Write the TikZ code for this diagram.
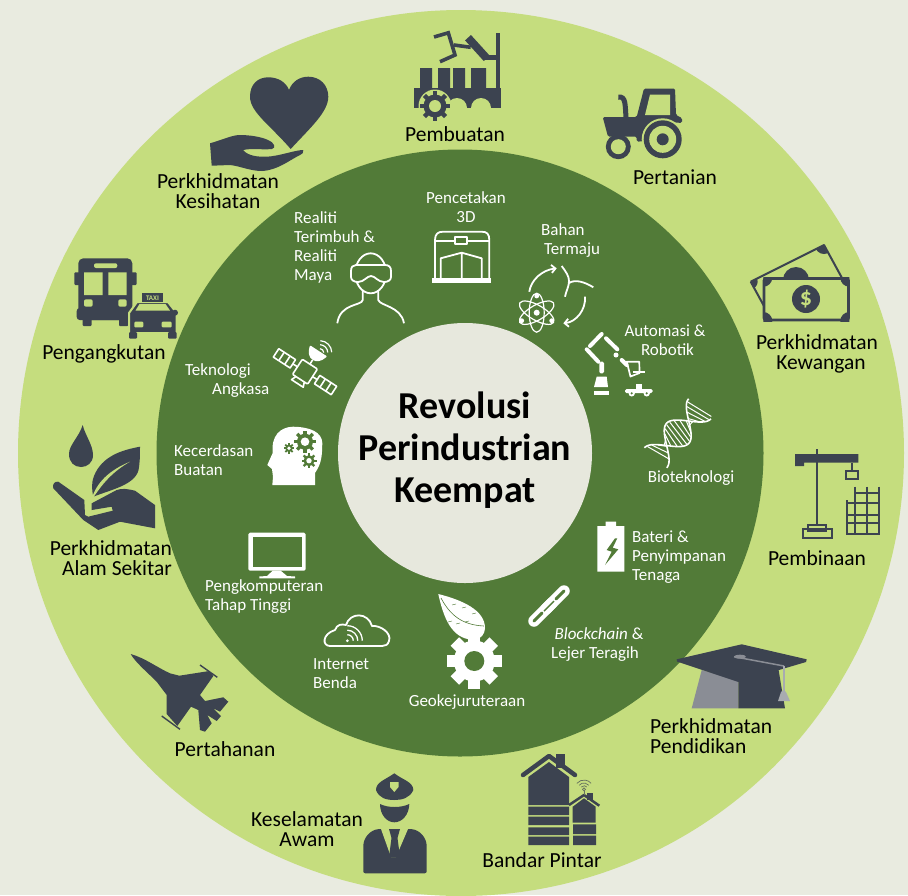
\documentclass[tikz,border=0pt]{standalone}
\usepackage{fontspec}
\setmainfont{Carlito}
\usetikzlibrary{arrows.meta}
\definecolor{bgc}{HTML}{E9EBE0}
\definecolor{lgreen}{HTML}{C5DD7E}
\definecolor{dgreen}{HTML}{527B38}
\definecolor{cfill}{HTML}{E7E8DD}
\definecolor{ic}{HTML}{3C4350}
\definecolor{capgrey}{HTML}{8A8D95}
\definecolor{bellgrey}{HTML}{A8ABB0}
\tikzset{
  outerlabel/.style={font=\fontsize{21.5}{20}\selectfont,text=black,inner sep=0pt,align=center},
  innerlabel/.style={font=\fontsize{17}{19}\selectfont,text=white,inner sep=0pt,align=left},
  centrelabel/.style={font=\fontsize{38}{42}\selectfont\bfseries,text=black,inner sep=0pt,align=center},
  wline/.style={draw=white,line width=1.8pt,line join=round},
  dline/.style={draw=ic,line width=2pt},
}
\newcommand{\toothgear}[7]{%
  \begin{scope}[shift={(#1,#2)}]
    \fill[#7] (0,0) circle[radius=#4];
    \foreach \k in {1,...,#5}{\fill[#7,rotate={\k*180/#5}] (-#6,-#3) rectangle (#6,#3);}
  \end{scope}}
\begin{document}
\begin{tikzpicture}[x=1pt,y=1pt,yscale=-1]
\useasboundingbox (0,0) rectangle (908,895);
\clip (0,0) rectangle (908,895);
\fill[bgc] (0,0) rectangle (908,895);
\fill[lgreen] (461,453) circle[radius=443];
\fill[dgreen] (460,453) circle[radius=303.5];
\fill[cfill] (465,453) ellipse[x radius=127,y radius=130];

% ---- Pembuatan
\fill[ic] (414,88) rectangle (501,108);
\fill[ic] (420,68) rectangle (432,88) (438,68) rectangle (450,88) (453,68) rectangle (465,88) (471,68) rectangle (486,88);
\fill[ic] (496.3,33) rectangle (500.3,88);
\fill[lgreen] (457,108) circle[radius=10] (481,108) circle[radius=10];
\fill[lgreen] (435,106) circle[radius=16.5];
\toothgear{435}{106}{15}{11.5}{4}{2.2}{ic}
\fill[lgreen] (435,106) circle[radius=6];
\draw[ic,line width=3.6pt] (434,37) -- (448.3,32.8) -- (455,55) -- (440,61.7);
\draw[ic,line width=3.6pt] (454,45) -- (470.7,47.3);
\draw[ic,line width=8pt] (468,37.7) -- (486.7,58.3);
\draw[ic,line width=5pt] (484,57.5) -- (498,57.5);

% ---- Pertanian
\fill[ic,rounded corners=1.5pt] (602.7,117) -- (636.7,117) -- (644,88.5) -- (675,88.5) -- (676,115) -- (682,118) -- (682,123) -- (670,122) -- (655,125) -- (646,141) -- (636.7,141.7) -- (636.7,136.7) -- (608,136.7) -- cycle;
\fill[lgreen] (650,94.5) -- (670,94.5) -- (670,115) -- (645,115) -- cycle;
\draw[ic,line width=5pt] (618.3,97) .. controls (626,96) and (625,105) .. (626,117);
\fill[lgreen] (662.7,139.3) circle[radius=21];
\fill[ic] (662.7,139.3) circle[radius=19];
\fill[lgreen] (662.7,139.3) circle[radius=13.5];
\fill[ic] (662.7,139.3) circle[radius=6];
\fill[ic] (618.3,146.7) circle[radius=12.5];
\fill[lgreen] (618.3,146.7) circle[radius=7.5];

% ---- Kesihatan
\fill[ic] (290.7,149) .. controls (270,125) and (250,112) .. (250,96.7) .. controls (250,84) and (258,77.3) .. (268.3,77.3) .. controls (278,77.3) and (286,82) .. (289,90) .. controls (292,82) and (299,76.7) .. (308.3,76.7) .. controls (320,76.7) and (328.3,85) .. (328.3,96.7) .. controls (328.3,112) and (310,128) .. (290.7,149) -- cycle;
\fill[ic] (210,143.3) .. controls (222,140) and (232,135) .. (240,135) .. controls (250,135) and (262,137) .. (268,140) .. controls (275,143) and (276,148) .. (272,149) .. controls (262,150) and (252,148) .. (243,150) .. controls (248,156) and (258,157) .. (267,156.7) .. controls (280,156) and (295,150) .. (303.3,150) .. controls (304,153) and (302,154) .. (300,155) .. controls (288,161) and (278,170) .. (262,171) .. controls (250,171) and (240,166) .. (230,165) -- (211.7,165.7) -- cycle;

% ---- Kewangan
\begin{scope}
  \clip (750.7,281.7) -- (824,245) -- (842,278) -- (768.7,314.7) -- cycle;
  \fill[ic] (750.7,281.7) circle[radius=7] (824,245) circle[radius=9];
  \fill[ic] (796,280) circle[radius=13];
\end{scope}
\draw[ic,line width=2pt,line join=round] (750.7,281.7) -- (824,245) -- (842,278) (768.7,314.7) -- (750.7,281.7);
\fill[lgreen] (763.3,277.7) rectangle (849.3,321);
\begin{scope}
  \clip (763.3,277.7) rectangle (849.3,321);
  \fill[ic] (763.3,277.7) circle[radius=9] (849.3,277.7) circle[radius=9] (763.3,321) circle[radius=9] (849.3,321) circle[radius=9];
\end{scope}
\draw[ic,line width=2.6pt,rounded corners=2pt] (764,278.5) rectangle (848.5,320);
\fill[ic] (806,299) circle[radius=14];
\node[font=\fontsize{24}{24}\selectfont\bfseries,text=lgreen,inner sep=0pt] (dollar) at (806,299) {\$};

% ---- Pembinaan
\fill[ic] (795,454) -- (858.3,454) -- (858.3,462.7) -- (804,462.7) -- (804,466) -- (795,466) -- cycle;
\draw[ic,line width=2.4pt] (816.7,449.3) -- (816.7,526);
\draw[dline] (802.7,529.3) rectangle (831.7,538.3) (807.7,525) rectangle (826,531);
\draw[dline] (851.7,462.7) -- (851.7,470.7) (846,470.7) rectangle (858.3,479);
\draw[dline] (855,486.7) -- (855,535) (867.3,486.7) -- (867.3,535) (879.3,486.7) -- (879.3,535) (847.3,500) -- (847.3,535);
\draw[dline] (855,493.3) -- (879.3,493.3) (847.3,503.3) -- (879.3,503.3) (847.3,515) -- (879.3,515) (847.3,523.3) -- (879.3,523.3) (847.3,534) -- (879.3,534);

% ---- Pendidikan
\fill[capgrey] (701.7,670) -- (738.3,680) -- (738.3,708.3) -- (691.7,708.3) -- cycle;
\fill[ic] (738.3,680) -- (778.3,668.3) -- (785,708.3) -- (738.3,708.3) -- cycle;
\fill[ic] (676.7,659.3) -- (741.7,644.3) -- (806.7,659.3) -- (806,662) -- (738.3,682) -- (677,661.5) -- cycle;
\draw[capgrey,line width=1.5pt] (734,656.7) -- (784,666);
\fill[capgrey] (740,656.7) ellipse[x radius=6,y radius=2];
\draw[bellgrey,line width=1.2pt] (784,666) -- (784,692);
\fill[bellgrey] (783.5,690) -- (786,692) -- (790,701) -- (778,701) -- (781,692) -- cycle;

% ---- Bandar Pintar
\fill[ic] (528.3,805) -- (528.3,777) -- (549,762) -- (569,777) -- (569,805) -- cycle;
\fill[ic] (556,754) rectangle (565,768);
\draw[ic,line width=4.5pt,line cap=round,line join=round] (523,775) -- (549,756) -- (575,775);
\fill[ic] (528.3,806.7) rectangle (569,815) (528.3,816.7) rectangle (569,825) (528.3,827.3) rectangle (569,835) (528.3,836.7) rectangle (569,845);
\fill[ic] (572.7,822.7) -- (572.7,806.7) -- (584,798.3) -- (595.7,806.7) -- (595.7,822.7) -- cycle;
\fill[ic] (586.7,793.3) rectangle (593.3,800);
\draw[ic,line width=2.5pt,line join=round] (569,805) -- (584,795) -- (599.3,805.7);
\fill[ic] (573,824.3) rectangle (596,834) (573,835.5) rectangle (596,845);
\draw[ic!70!lgreen,line width=.7pt] (584,789.3) circle[radius=1.5];
\foreach \r in {3.6,6.3,9.3}{\draw[ic!70!lgreen,line width=.7pt] ([shift={(220:\r)}]584,789.3) arc[start angle=220,end angle=320,radius=\r];}
\draw[ic!70!lgreen,line width=.7pt] (584,791) -- (584,795);

% ---- Keselamatan
\fill[ic] (376,790) .. controls (376,782) and (385,780) .. (394.3,773.3) .. controls (403,780) and (413.3,782) .. (413.3,790) .. controls (410,798) and (402,800) .. (394.3,800) .. controls (386,800) and (379,798) .. (376,790) -- cycle;
\fill[lgreen] (390,782) -- (398.5,782) -- (398.5,787) -- (394.3,792) -- (390,787) -- cycle;
\fill[ic] (380,804) .. controls (388,808) and (401,808) .. (409.3,804) .. controls (409,815) and (402,822.3) .. (394.3,822.3) .. controls (387,822.3) and (380,815) .. (380,804) -- cycle;
\fill[ic,rounded corners=2pt] (363.3,873.3) -- (363.3,848) .. controls (363.3,838) and (370,830) .. (380,829) -- (410,829) .. controls (420,830) and (426.7,838) .. (426.7,848) -- (426.7,873.3) -- cycle;
\fill[lgreen] (381,829) -- (408,829) -- (396,857) -- (391,857) -- cycle;
\fill[ic] (389,829) -- (400,829) -- (397.5,838) -- (400,857) -- (389,857) -- (391.5,838) -- cycle;

% ---- Pertahanan
\fill[ic] (130.7,654) .. controls (145,658) and (158,668) .. (170,673.3) -- (179.3,675.7) -- (209.3,671) -- (213.3,676) -- (200,695) -- (205,701) -- (223.3,697.3) -- (228.3,701.7) -- (220,711.7) -- (213.3,708.3) -- (221,716) -- (216.7,721) -- (207.3,715) -- (211.7,723.3) -- (205,731.7) -- (200,730) -- (198.3,710) -- (191,706.7) -- (177.3,726) -- (166.7,714) -- (166.7,695) -- (156.7,681.7) .. controls (148,673) and (135,662) .. (130.7,654) -- cycle;
\draw[ic,line width=1.4pt] (200,665) -- (217.3,677.3) (161.7,716) -- (180,729.3);

% ---- Alam Sekitar
\fill[ic] (82.7,425) .. controls (85,435) and (93,445) .. (93,455) .. controls (93,463) and (87,467) .. (81,467) .. controls (74,467) and (69,462) .. (69,454) .. controls (69,445) and (79,437) .. (82.7,425) -- cycle;
\fill[ic] (140,446.7) .. controls (122,450) and (102,456) .. (94,476) .. controls (91,484) and (92,490) .. (93.3,496.7) .. controls (110,490) and (135,485) .. (138.5,470) .. controls (140,462) and (140,455) .. (140,446.7) -- cycle;
\fill[lgreen] (91,501) .. controls (96,482) and (110,470) .. (130,461.7) .. controls (112,472) and (102,484) .. (91,501) -- cycle;
\fill[ic] (58.3,481.7) .. controls (55,481) and (52,484) .. (53.3,488.3) -- (83.3,520) -- (98.3,530) -- (120,521.7) -- (155,528.3) -- (155,505) -- (135,490.7) .. controls (128,489) and (122,488) .. (116.7,490) -- (91.7,503.3) -- (91.7,510) -- (111.7,506.7) -- (112.7,510.7) -- (88.3,516.7) -- (85,515) -- (84.3,500) -- cycle;

% ---- Pengangkutan
\fill[ic,rounded corners=5pt] (78.3,258.3) rectangle (132.3,320);
\fill[ic,rounded corners=1pt] (74.3,272.3) rectangle (136.7,285);
\fill[ic,rounded corners=3pt] (76.7,308) rectangle (133.5,320);
\fill[ic,rounded corners=1pt] (82.7,318) rectangle (91.7,326) (119,318) rectangle (128.3,326);
\fill[lgreen] (84,272.3) rectangle (102.7,295) (108.3,272.3) rectangle (126.7,295);
\fill[lgreen,rounded corners=2pt] (94,263.3) rectangle (117.3,268);
\fill[lgreen,rounded corners=2pt] (84,299.3) rectangle (92.7,306.7) (118.3,299.3) rectangle (126.7,306.7);
\filldraw[fill=ic,draw=lgreen,line width=2pt,line join=round] (129,333) -- (129,313) -- (137,302) -- (168,302) -- (176.7,313) -- (176.7,333) -- cycle;
\fill[ic,rounded corners=1pt] (129,332) rectangle (137,338.7) (168,332) rectangle (176.7,338.7);
\fill[ic] (141.7,293.3) rectangle (163.3,302);
\fill[ic] (175,312.7) circle[radius=3];
\fill[lgreen,rounded corners=1pt] (134.3,321.7) rectangle (143.3,327.3) (161.7,321.7) rectangle (171.7,327.3);
\fill[lgreen] (139.5,304) -- (165.5,304) -- (170,310.5) -- (135.5,310.5) -- cycle;
\node[font=\fontsize{7}{7}\selectfont\bfseries,text=lgreen,inner sep=0pt] (taxi) at (152.5,297.8) {TAXI};

% ---- Pencetakan 3D
\draw[wline] (435,280) -- (435,240) .. controls (435,234) and (438,231.7) .. (443,231.7) -- (481.7,231.7) .. controls (487,231.7) and (489.3,234) .. (489.3,240) -- (489.3,280);
\draw[wline] (435,241) -- (489.3,241);
\filldraw[wline,fill=dgreen] (455,236.7) rectangle (466.7,244.3);
\fill[white] (431.7,278.3) rectangle (491,283.3);
\draw[wline] (440.7,279.3) -- (440.7,258.3) -- (461.7,252.7) -- (481.7,258.3) -- (481.7,279.3) (461.7,252.7) -- (461.7,279.3);

% ---- VR
\draw[wline] (370.7,273.3) ellipse[x radius=15.5,y radius=20];
\draw[wline,fill=dgreen] (356,265) -- (385,265) .. controls (389,265) and (391,267) .. (391,271) -- (391,277) .. controls (391,280) and (388,282) .. (384,282) .. controls (378,282) and (375,276) .. (371,276) .. controls (367,276) and (364,282) .. (358,282) .. controls (354,282) and (351,280) .. (351,277) -- (351,271) .. controls (351,267) and (353,265) .. (356,265) -- cycle;
\draw[wline] (362.7,290) -- (362.7,300) .. controls (362,306) and (340,303) .. (337.3,323.3);
\draw[wline] (378.3,290) -- (378.3,300) .. controls (380,306) and (401,306) .. (404,323.3);

% ---- Bahan Termaju
\draw[white,line width=1.8pt,-{Straight Barb[length=4pt,width=8pt]}] (529.3,291.7) .. controls (531,280) and (542,270) .. (556.7,268.3);
\draw[white,line width=1.8pt,-{Straight Barb[length=4pt,width=8pt]}] (585,296.7) .. controls (586,310) and (576,322) .. (563.3,323.3);
\draw[white,line width=1.8pt] (561.7,266) .. controls (566,272) and (569,276) .. (569,281) .. controls (569,287) and (566,291) .. (565,296.7);
\draw[white,line width=1.8pt] (569,283) .. controls (575,279) and (585,282) .. (593.3,287.3);
\foreach \a in {30,90,150}{\draw[white,line width=1.2pt,rotate around={\a:(536.7,312.7)}] (536.7,312.7) ellipse[x radius=19.5,y radius=7.5];}
\fill[white] (536.7,312.7) circle[radius=3] (536.7,296) circle[radius=2.4] (521.7,320.7) circle[radius=2.4] (551.7,320.7) circle[radius=2.4];

% ---- Robot
\draw[white,line width=4pt,line cap=round] (586.7,349.3) -- (598.3,361.7) (590,346) -- (601.7,334) (606,338.3) -- (617.3,349.3) (621.7,360) -- (626.7,365);
\fill[white] (616,355) circle[radius=2.5];
\draw[white,line width=1.7pt,line join=round] (626.7,361.7) -- (639.3,361.7) -- (639.5,373) -- (630.5,376.5) -- cycle;
\draw[white,line width=1.7pt] (633.3,371.7) -- (645,371.7);
\fill[white,rounded corners=1.5pt] (599.3,361.7) rectangle (604,373.3);
\fill[white] (596.7,376.7) -- (606.7,376.7) -- (608,387) -- (594,387) -- cycle;
\fill[white] (594,390.7) rectangle (609,395);
\fill[white,rounded corners=1.5pt] (625,389) rectangle (652.7,393);
\fill[white] (636,384) rectangle (642,389);
\fill[white] (631.7,393.3) circle[radius=3.2] (646.7,393.3) circle[radius=3.2];
\fill[dgreen] (631.7,393.3) circle[radius=1.2] (646.7,393.3) circle[radius=1.2];

% ---- DNA
\begin{scope}[shift={(677.7,433.3)},rotate=-48]
  \foreach \x in {-30,-26,...,30}{
    \pgfmathsetmacro\ya{14*cos(\x*180/33)}
    \pgfmathsetmacro\yb{-14*cos((\x+5)*180/33)}
    \draw[white,line width=1pt] (\x,\ya) -- (\x+5,\yb);}
  \draw[white,line width=1.6pt] plot[domain=-33:33,samples=50,smooth] (\x,{15*cos(\x*180/33)});
  \draw[white,line width=1.6pt] plot[domain=-33:33,samples=50,smooth] (\x,{-15*cos(\x*180/33)});
\end{scope}

% ---- Battery
\fill[white] (597.3,526) rectangle (624.3,571.7) (605.7,521.7) rectangle (616,526);
\fill[dgreen] (615,538.3) -- (606.7,550) -- (611.7,551.7) -- (605,565) -- (618.3,549.3) -- (612.7,547.7) -- (617.3,538.3) -- cycle;

% ---- Chain
\draw[white,line width=11.5pt,line cap=round] (534,621) -- (552,603);
\draw[white,line width=11.5pt,line cap=round] (546,609) -- (564,591);
\draw[dgreen,line width=3pt,line cap=round] (534,621) -- (542,613);
\draw[dgreen,line width=3pt,line cap=round] (556,599) -- (564,591);
\draw[dgreen,line width=1.4pt] (544,611) -- (554,601);

% ---- Leaf + gear
\fill[white] (438.3,594) .. controls (462,600) and (485,610) .. (485,628) .. controls (485,634) and (481,638) .. (476,640) .. controls (455,640) and (445,625) .. (438.3,594) -- cycle;
\draw[dgreen,line width=.6pt] (441,598) .. controls (450,615) and (462,625) .. (484,626);
\foreach \a/\b in {448/622,456/624,465/622,452/605,462/608,472/614}{\draw[dgreen,line width=.4pt] (\a,\b) -- (\a+4,\b-1);}
\toothgear{474.3}{661}{27.5}{20.5}{4}{6}{white}
\fill[dgreen] (474.3,661) circle[radius=10];

% ---- Cloud
\draw[white,line width=1.8pt,line join=round] (330,646) .. controls (322,646) and (322,634) .. (335,630) .. controls (337,624) and (342,624) .. (346,625) .. controls (350,612) and (368,612) .. (372,626) .. controls (380,625) and (392,633) .. (389,641) .. controls (388,645) and (385,646) .. (382,646) -- cycle;
\fill[white] (347.3,640.7) circle[radius=1.5];
\foreach \r in {6,10.5,15}{\draw[white,line width=1.3pt] (347.3,640.7-\r) arc[start angle=270,end angle=360,radius=\r];}

% ---- Monitor
\fill[white,rounded corners=1.5pt] (248.3,532.7) rectangle (305.7,570.7);
\fill[dgreen] (252.7,536.7) rectangle (301.7,566.7);
\fill[white] (272.7,570.7) -- (280.7,570.7) -- (287,576) -- (295,576.5) -- (295,578.3) -- (259.3,578.3) -- (259.3,576.5) -- (267,576) -- cycle;

% ---- Head
\fill[white] (315,485) -- (315,473) .. controls (322,463) and (322,455) .. (322.3,443) .. controls (322,432) and (310,427) .. (293,426.7) .. controls (280,427) and (271,436) .. (272.7,453) -- (267.3,465) -- (272,469) -- (273,477) -- (272.3,485) -- cycle;
\toothgear{305}{441.7}{11}{8}{4}{1.7}{dgreen}
\fill[white] (305,441.7) circle[radius=4.3];
\toothgear{309}{460.7}{7.5}{5.5}{4}{1.2}{dgreen}
\fill[white] (309,460.7) circle[radius=2.7];
\toothgear{289}{448.3}{5.2}{3.7}{4}{.9}{dgreen}
\fill[white] (289,448.3) circle[radius=1.9];

% ---- Satellite
\begin{scope}[shift={(305,371.7)},rotate=33]
  \draw[wline,line width=1.6pt] (-34.5,-5) rectangle (-14.5,5) (14.5,-5) rectangle (34.5,5);
  \draw[wline,line width=1.6pt] (-28,-5) -- (-28,5) (-21,-5) -- (-21,5) (28,-5) -- (28,5) (21,-5) -- (21,5);
  \draw[wline,line width=1.6pt] (-14.5,0) -- (-9,0) (9,0) -- (14.5,0);
  \draw[wline,line width=1.6pt,rounded corners=1pt] (-9,-9) rectangle (9,9);
  \draw[wline,line width=1.6pt] (-5,9) -- (-7,14) -- (7,14) -- (5,9);
  \draw[wline,line width=1.6pt] (0,-9) -- (0,-14);
  \filldraw[wline,fill=white] (-9,-24) .. controls (-6,-12) and (6,-12) .. (9,-24) -- cycle;
  \foreach \r in {4,8,12}{\draw[white,line width=1.2pt] ([shift={(240:\r)}]2,-24) arc[start angle=240,end angle=325,radius=\r];}
\end{scope}

% ---- outer labels
\node[outerlabel] (pembuatan) at (455,134) {Pembuatan};
\node[outerlabel] (pertanian) at (675,177) {Pertanian};
\node[outerlabel] (kewangan) at (817,354) {Perkhidmatan\\\hspace*{8pt}Kewangan};
\node[outerlabel] (pembinaan) at (817,558) {Pembinaan};
\node[outerlabel,align=left,anchor=west] (pendidikan) at (650,736) {Perkhidmatan\\Pendidikan};
\node[outerlabel] (bandar) at (542,860) {Bandar Pintar};
\node[outerlabel] (keselamatan) at (307,829) {Keselamatan\\Awam};
\node[outerlabel] (pertahanan) at (225,749) {Pertahanan};
\node[outerlabel,align=right,anchor=east] (alam) at (172,558) {Perkhidmatan\\Alam Sekitar};
\node[outerlabel] (pengangkutan) at (104,354) {Pengangkutan};
\node[outerlabel] (kesihatan) at (218,191) {Perkhidmatan\\Kesihatan};

% ---- inner labels
\node[innerlabel,align=center] (cetak) at (466,207) {Pencetakan\\3D};
\node[innerlabel,anchor=west] (realiti) at (294,247) {Realiti\\Terimbuh \&\\Realiti\\Maya};
\node[innerlabel,anchor=west] (bahan) at (541,241) {Bahan\\\hspace*{3pt}Termaju};
\node[innerlabel,align=center] (automasi) at (665,340) {Automasi \&\\\hspace*{5pt}Robotik};
\node[innerlabel,anchor=west] (angkasa) at (185,381) {Teknologi\\\hspace*{27pt}Angkasa};
\node[innerlabel,anchor=west] (ai) at (174,460) {Kecerdasan\\Buatan};
\node[innerlabel,anchor=west] (hpc) at (205,597) {Pengkomputeran\\Tahap Tinggi};
\node[innerlabel,anchor=west] (iot) at (313,674) {Internet\\Benda};
\node[innerlabel] (geo) at (467,702) {Geokejuruteraan};
\node[innerlabel,align=center] (chain) at (595,645) {\hspace*{8pt}\textit{Blockchain} \&\\Lejer Teragih};
\node[innerlabel,anchor=west] (bateri) at (632,557) {Bateri \&\\Penyimpanan\\Tenaga};
\node[innerlabel] (bio) at (691,478) {Bioteknologi};

% ---- centre
\node[centrelabel] (revolusi) at (465,450) {Revolusi\\Perindustrian\\Keempat};
\end{tikzpicture}
\end{document}
